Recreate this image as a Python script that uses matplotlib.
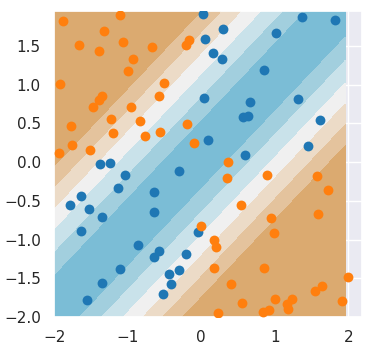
import numpy as np
import seaborn as sns
from matplotlib import pyplot as plt

# points
blue_x = [-1.378, -1.246, -1.038, -0.299, 0.022, 1.372, 1.821, 0.303, 0.054, 1.019,
          0.167, 0.285, 0.856, 0.045, 0.670, 1.322, 0.571, 0.639, 1.621, 0.099,
          1.454, 0.592, -1.124, -0.644, -1.640, -1.780, -1.522, -1.355, -0.644, -1.640,
          -0.852, -0.567, -0.635, -0.204, -1.110, -0.295, -0.444, -0.404, -1.345, -0.522,
          -1.558, -0.046]
blue_y = [-0.028, -0.006, -0.169, -0.121, 1.909, 1.879, 1.837, 1.722, 1.590, 1.667,
          1.406, 1.335, 1.194, 0.831, 0.777, 0.815, 0.581, 0.598, 0.538, 0.282,
          0.211, 0.096, -0.335, -0.386, -0.441, -0.556, -0.612, -0.714, -0.641, -0.884,
          -1.075, -1.143, -1.229, -1.190, -1.378, -1.391, -1.442, -1.577, -1.557, -1.701,
          -1.774, -0.909]

orange_x = [-1.880, -1.110, -1.318, -1.667, -1.391, -1.056, -0.675, -0.920, -0.988, -1.916,
            -0.508, -0.576, -1.355, -1.386, -1.473, -0.951, -1.228, -0.834, -1.776, -1.201,
            -0.553, -0.770, -1.753, -1.514, -1.939, -0.204, -0.159, -0.190, -0.091, 0.361,
            0.353, 0.891, 1.576, 1.730, 0.543, 1.584, 0.946, 0.000, 0.986, 0.181,
            0.208, 0.181, 0.860, 0.412, 1.992, 1.639, 1.543, 0.552, 1.000, 1.236,
            1.173, 1.177, 1.910, 0.928, 0.837, 0.235]
orange_y = [1.815, 1.897, 1.696, 1.513, 1.437, 1.547, 1.479, 1.326, 1.181, 1.006,
            1.015, 0.857, 0.849, 0.798, 0.713, 0.709, 0.550, 0.534, 0.461, 0.381,
            0.393, 0.342, 0.215, 0.151, 0.121, 1.513, 1.577, 0.496, 0.244, 0.001,
            -0.201, -0.165, -0.178, -0.356, -0.552, -0.676, -0.722, -0.824, -0.913, -1.003,
            -1.092, -1.365, -1.373, -1.570, -1.488, -1.599, -1.659, -1.816, -1.765, -1.769,
            -1.829, -1.893, -1.794, -1.909, -1.935, -1.944]

# decision bands: distance from the line y = x + 0.1
band_edges = [0, 0.45, 0.75, 1.04, 1.31, 1.58, 1.85, 10]
band_colors = ['#7bbdd6', '#a2cfde', '#c9e2ea', '#f0f0f0', '#ecdbc7', '#e4c39d', '#dbaa70']

sns.set_theme()

fig = plt.figure(figsize=(3.73, 3.55), dpi=100)
ax = fig.add_axes([0.145, 0.107, 0.826, 0.862])

gx = np.linspace(-2, 1.96, 300)
gy = np.linspace(-2, 1.95, 300)
xx, yy = np.meshgrid(gx, gy)
zz = np.abs(yy - xx - 0.1)
ax.contourf(xx, yy, zz, levels=band_edges, colors=band_colors)

ax.scatter(blue_x, blue_y, s=50, color='#1f77b4', linewidths=0, zorder=3)
ax.scatter(orange_x, orange_y, s=50, color='#ff7f0e', linewidths=0, zorder=3)

ax.set_xlim(-2, 2.19)
ax.set_ylim(-2, 1.95)
ax.set_xticks([-2, -1, 0, 1, 2])
ax.set_yticks(np.arange(-2, 1.6, 0.5))

plt.savefig('out.png')
